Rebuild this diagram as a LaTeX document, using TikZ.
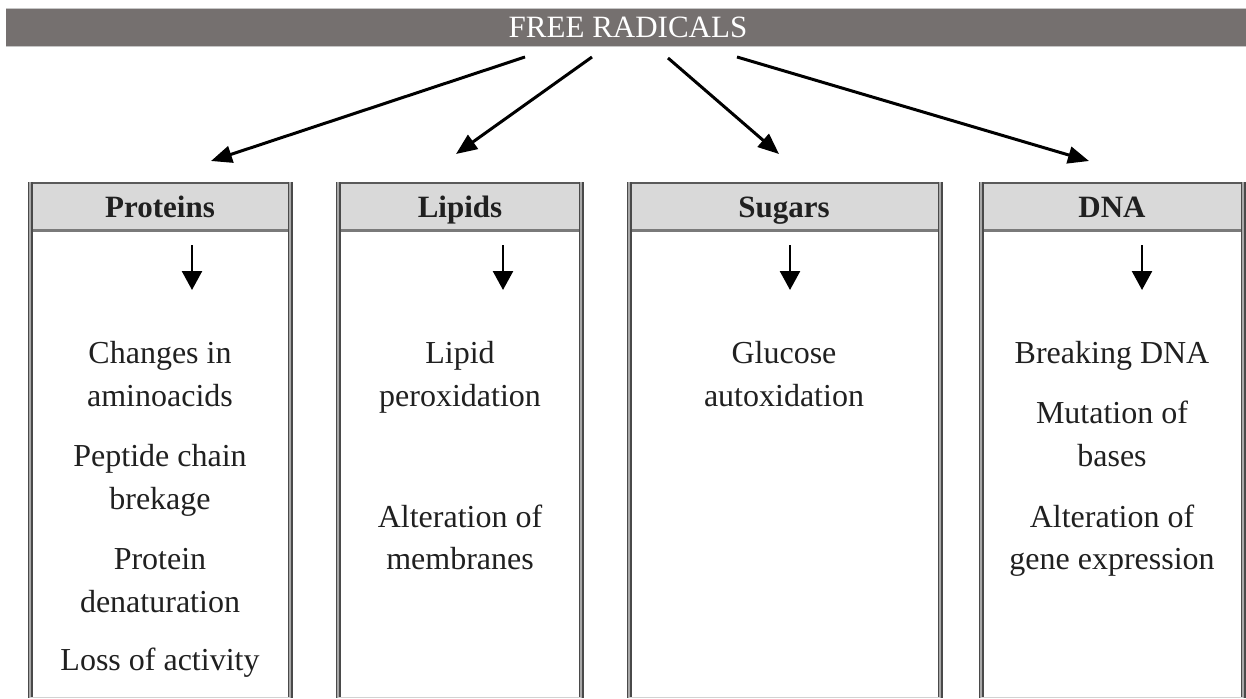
\documentclass[tikz,border=0pt]{standalone}
\usepackage{fontspec}
\setmainfont{Liberation Serif}
\usetikzlibrary{arrows.meta}
\definecolor{barfill}{HTML}{75706F}
\definecolor{hdrfill}{HTML}{D9D9D9}
\definecolor{bordc}{HTML}{4A4A4A}
\definecolor{sidefill}{HTML}{A8A8A8}
\definecolor{sepcol}{HTML}{7A7A7A}
\definecolor{topcol}{HTML}{5A5A5A}
\definecolor{txtcol}{HTML}{202020}
\begin{document}
\begin{tikzpicture}[x=1pt,y=-1pt,
  txt/.style={font=\fontsize{32}{38}\selectfont, text=txtcol, inner sep=0pt, anchor=base},
  hdr/.style={font=\bfseries\fontsize{31}{37}\selectfont, text=txtcol, inner sep=0pt, anchor=base},
  bartxt/.style={font=\fontsize{31}{37}\selectfont, text=white, inner sep=0pt, anchor=base},
  bigarrow/.style={line width=3pt, -{Triangle[length=21pt,width=17pt]}},
  smallarrow/.style={line width=2.5pt, -{Triangle[length=19pt,width=20pt]}},
  side/.style={draw=bordc, double=sidefill, double distance=2.4pt, line width=1.3pt},
  topline/.style={draw=topcol, line width=2pt},
  sepline/.style={draw=sepcol, line width=3pt},
]
\useasboundingbox (0,0) rectangle (1246,698);
\fill[white] (0,0) rectangle (1246,698);

% top bar
\fill[barfill] (6,8) rectangle (1246,47);
\draw[gray!45, line width=1pt] (6,8.5) -- (1246,8.5);
\draw[gray!45, line width=1pt] (6,46.5) -- (1246,46.5);
\node[bartxt] (fr) at (628,38) {FREE RADICALS};

% boxes: Proteins 30-290, Lipids 338-581, Sugars 629-940, DNA 981-1243
\foreach \L/\R in {30/290, 338/581, 629/940, 981/1243}{
  \fill[hdrfill] (\L,183) rectangle (\R,230);
  \draw[sepline] (\L,230) -- (\R,230);
  \draw[topline] (\L,183) -- (\R,183);
  \draw[side] (\L,182) -- (\L,698);
  \draw[side] (\R,182) -- (\R,698);
  \draw[gray!35, line width=1pt] (\L,697.5) -- (\R,697.5);
}

% headers
\node[hdr] (hp) at (160,217) {Proteins};
\node[hdr] (hl) at (460,217) {Lipids};
\node[hdr] (hs) at (784,217) {Sugars};
\node[hdr] (hd) at (1112,217) {DNA};

% big arrows
\coordinate (a1s) at (525,57);  \coordinate (a1e) at (211,161);
\coordinate (a2s) at (592,57);  \coordinate (a2e) at (456,154);
\coordinate (a3s) at (668,58);  \coordinate (a3e) at (779,154);
\coordinate (a4s) at (737,57);  \coordinate (a4e) at (1089,161);
\draw[bigarrow] (a1s) -- (a1e);
\draw[bigarrow] (a2s) -- (a2e);
\draw[bigarrow] (a3s) -- (a3e);
\draw[bigarrow] (a4s) -- (a4e);

% small arrows
\coordinate (p0) at (192,245); \coordinate (p1) at (192,290);
\coordinate (l0) at (503,245); \coordinate (l1) at (503,290);
\coordinate (s0) at (790,245); \coordinate (s1) at (790,290);
\coordinate (d0) at (1142,245); \coordinate (d1) at (1142,290);
\draw[smallarrow] (p0) -- (p1);
\draw[smallarrow] (l0) -- (l1);
\draw[smallarrow] (s0) -- (s1);
\draw[smallarrow] (d0) -- (d1);

% Proteins items
\node[txt] (pa) at (160,363) {Changes in};
\node[txt] (pb) at (160,406) {aminoacids};
\node[txt] (pc) at (160,466) {Peptide chain};
\node[txt] (pd) at (160,509) {brekage};
\node[txt] (pe) at (160,569) {Protein};
\node[txt] (pf) at (160,612) {denaturation};
\node[txt] (pg) at (160,670) {Loss of activity};

% Lipids items
\node[txt] (la) at (460,363) {Lipid};
\node[txt] (lb) at (460,406) {peroxidation};
\node[txt] (lc) at (460,527) {Alteration of};
\node[txt] (ld) at (460,569) {membranes};

% Sugars items
\node[txt] (sa) at (784,363) {Glucose};
\node[txt] (sb) at (784,406) {autoxidation};

% DNA items
\node[txt] (da) at (1112,363) {Breaking DNA};
\node[txt] (db) at (1112,423) {Mutation of};
\node[txt] (dc) at (1112,466) {bases};
\node[txt] (dd) at (1112,527) {Alteration of};
\node[txt] (de) at (1112,569) {gene expression};
\end{tikzpicture}
\end{document}
